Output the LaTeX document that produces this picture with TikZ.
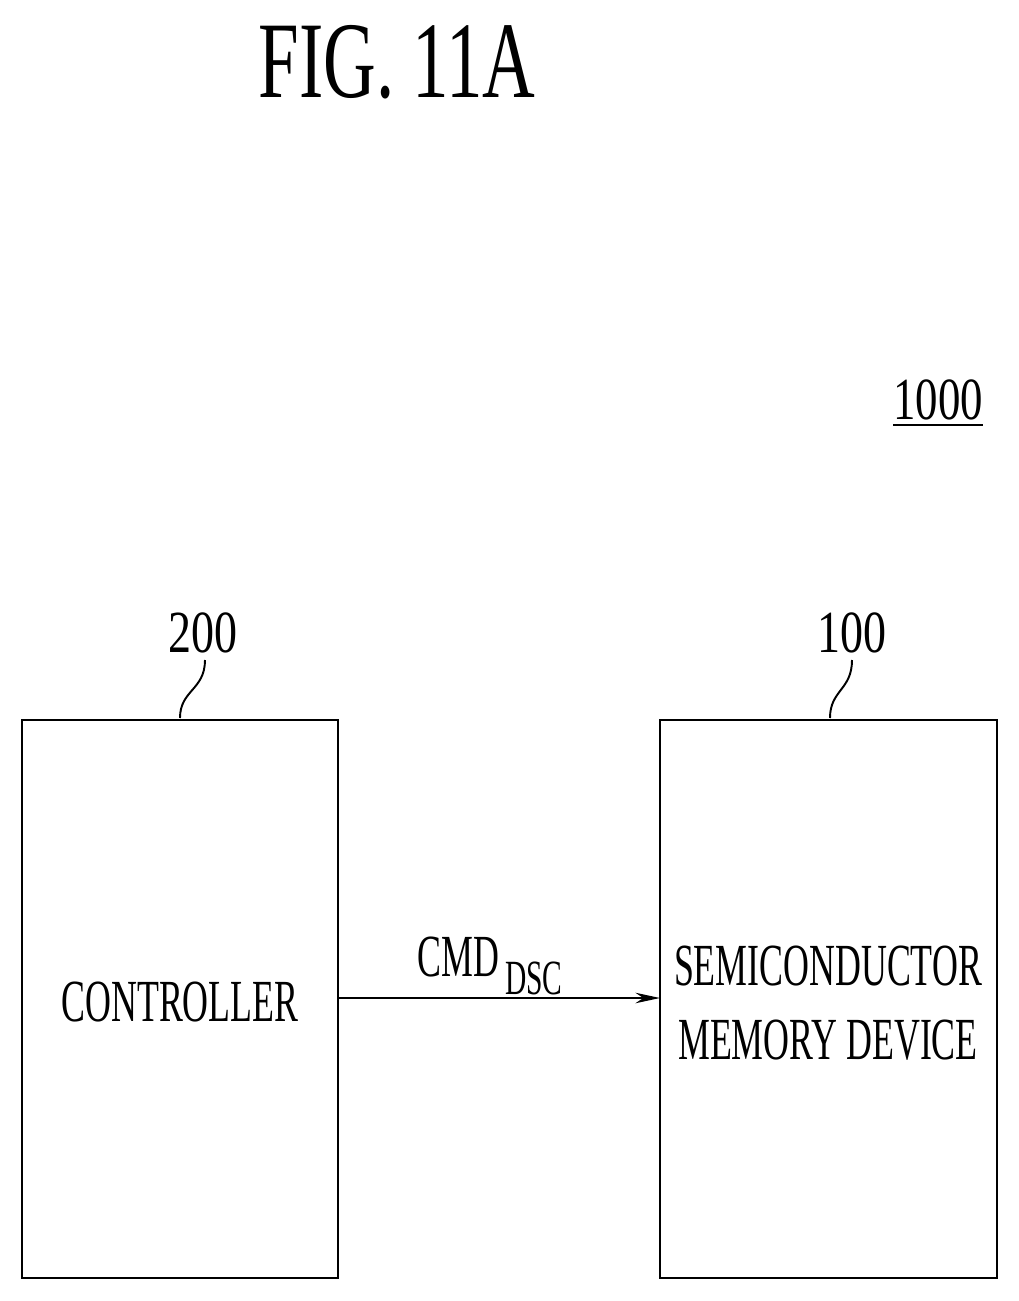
\documentclass[tikz,border=0pt]{standalone}
\usepackage{fontspec}
\setmainfont{Liberation Serif}
\usetikzlibrary{arrows.meta}
\begin{document}
\begin{tikzpicture}[x=0.02cm,y=-0.02cm,
  box/.style={draw,line width=1.2pt},
  lbl/.style={inner sep=0pt,font=\fontsize{34}{38}\selectfont},
  lead/.style={line width=1.1pt}]
\useasboundingbox (0,0) rectangle (1018,1301);
\node[lbl,font=\fontsize{62}{66}\selectfont] (title) at (397,62) {\scalebox{0.67}[1]{FIG. 11A}};
\node[lbl] (sys) at (938,400) {\scalebox{0.75}[1]{1000}};
\draw[line width=1.2pt] (893,425) -- (983,425);
\draw[box] (22,720) rectangle (338,1278);
\draw[box] (660,720) rectangle (997,1278);
\coordinate (cR) at (338,998);
\coordinate (mL) at (660,998);
\node[lbl] (ctl) at (180,1002) {\scalebox{0.6}[1]{CONTROLLER}};
\node[lbl,align=center] (mem) at (828,1003) {\scalebox{0.6}[1]{SEMICONDUCTOR}\\[4pt]\scalebox{0.6}[1]{MEMORY DEVICE}};
\draw[line width=1.1pt,-{Stealth[length=14pt,width=6pt]}] (cR) -- (mL);
\node[lbl] (cmd) at (490,966) {\scalebox{0.6}[1]{CMD\,{\fontsize{28}{30}\selectfont\raisebox{-10pt}{DSC}}}};
\node[lbl] (n200) at (203,633) {\scalebox{0.77}[1]{200}};
\node[lbl] (n100) at (852,633) {\scalebox{0.77}[1]{100}};
\draw[lead] (205,660) .. controls (205,690) and (180,690) .. (180,718);
\draw[lead] (852,660) .. controls (852,690) and (830,690) .. (830,718);
\end{tikzpicture}
\end{document}
